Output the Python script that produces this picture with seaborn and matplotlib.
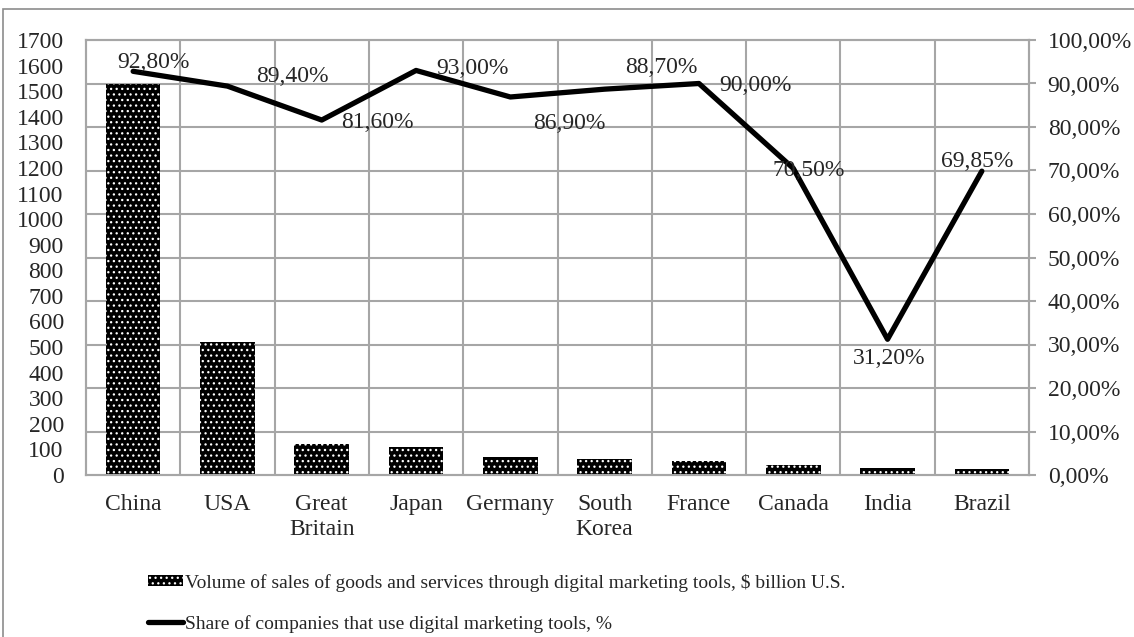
import numpy as np
import pandas as pd
import matplotlib
matplotlib.use('Agg')
import matplotlib.pyplot as plt
from matplotlib.patches import Patch, Rectangle
from matplotlib.lines import Line2D
from matplotlib.ticker import FuncFormatter
import seaborn as sns

countries = ['China', 'USA', 'Great\nBritain', 'Japan', 'Germany', 'South\nKorea',
             'France', 'Canada', 'India', 'Brazil']
sales = [1530, 520, 120, 108, 72, 64, 54, 40, 27, 24]
share = [92.80, 89.40, 81.60, 93.00, 86.90, 88.70, 90.00, 70.50, 31.20, 69.85]

sales_label = 'Volume of sales of goods and services through digital marketing tools, \\$ billion U.S.'
share_label = 'Share of companies that use digital marketing tools, %'

df = pd.DataFrame({'country': countries, 'sales': sales, 'share': share})

sns.set_style('white')
plt.rcParams['font.family'] = ['Liberation Serif', 'DejaVu Serif']
plt.rcParams['hatch.linewidth'] = 0.9
fs = 17

fig = plt.figure(figsize=(11.34, 6.37), dpi=100)
ax = fig.add_axes([86 / 1134, 1 - 475 / 637, (1029 - 86) / 1134, (475 - 40) / 637])

# outer chart border
fig.patches.append(Rectangle((3 / 1134, -0.05), 1.1, 1 - 9 / 637 + 0.05,
                             transform=fig.transFigure, fill=False,
                             edgecolor='#8c8c8c', linewidth=1.2, zorder=0))

grid_c = '#a6a6a6'
sns.barplot(data=df, x='country', y='sales', ax=ax, color='black', width=0.58,
            saturation=1, edgecolor='white', linewidth=0, hatch='...', zorder=3)

ax.set_xlim(-0.5, len(countries) - 0.5)
ax.set_ylim(0, 1700)
ax.set_yticks(np.arange(0, 1701, 100))
ax.set_yticks(np.arange(0, 1701, 170), minor=True)
ax.set_xticks(np.arange(0.5, len(countries) - 0.5, 1), minor=True)
ax.grid(which='minor', color=grid_c, linewidth=1.5, zorder=0)
ax.grid(which='major', visible=False)
ax.set_axisbelow(True)
ax.tick_params(axis='y', which='both', length=0, pad=16, labelsize=fs)
ax.tick_params(axis='x', which='both', length=0, pad=14, labelsize=fs)
for lab in ax.get_xticklabels():
    lab.set_linespacing(1.25)
ax.set_xlabel('')
ax.set_ylabel('')
for s in ax.spines.values():
    s.set_color(grid_c)
    s.set_linewidth(1.5)

ax2 = ax.twinx()
sns.lineplot(data=df, x='country', y='share', ax=ax2, color='black', linewidth=3.8,
             sort=False, zorder=5)
ax2.set_ylim(0, 100)
ax2.set_yticks(np.arange(0, 101, 10))
ax2.yaxis.set_major_formatter(FuncFormatter(lambda v, p: f'{v:.2f}%'.replace('.', ',')))
ax2.tick_params(axis='y', length=5, width=1.5, color=grid_c, pad=8.5, labelsize=fs)
ax2.set_ylabel('')
ax2.set_xlabel('')
for s in ax2.spines.values():
    s.set_color(grid_c)
    s.set_linewidth(1.5)

# data labels, offsets in pixels (dx, dy)
offsets = [(20, 9), (65, 10), (56, -2), (56, 2), (59, -27), (57, 22),
           (56, -2), (15, -2), (2, -19), (-5, 10)]
for i, (v, (dx, dy)) in enumerate(zip(share, offsets)):
    ax2.annotate(f'{v:.2f}%'.replace('.', ','), (i, v), xytext=(dx * 0.72, dy * 0.72),
                 textcoords='offset points', ha='center', va='center', fontsize=fs,
                 zorder=6)

handles = [Patch(facecolor='black', edgecolor='white', hatch='...', linewidth=0),
           Line2D([0], [0], color='black', linewidth=3.8)]
fig.legend(handles, [sales_label, share_label], loc='upper left',
           bbox_to_anchor=(130 / 1134, 1 - 556 / 637), frameon=False, fontsize=14,
           handlelength=1.8, handleheight=0.5, handletextpad=0.12, labelspacing=1.2)

fig.savefig('out.png', dpi=100)
